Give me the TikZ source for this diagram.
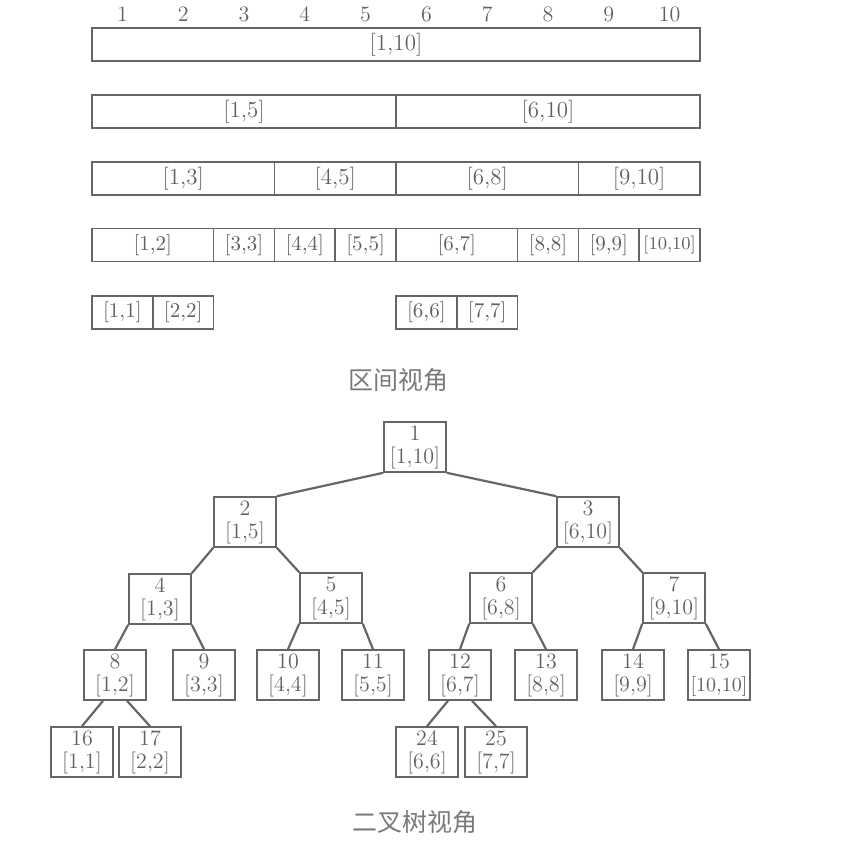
\documentclass[tikz,border=0pt]{standalone}
\usepackage{fontspec}
\newfontfamily\cjk{Noto Sans CJK SC}
\definecolor{textgray}{gray}{0.38}
\definecolor{linegray}{gray}{0.40}

\begin{document}
\begin{tikzpicture}[x=0.5pt, y=-0.5pt,
        seg/.style={draw=linegray, line width=0.8pt, minimum height=16.5pt, inner sep=0pt,
            text=textgray, font=\fontsize{11.5}{13}\selectfont},
        small seg/.style={seg, font=\fontsize{10.5}{12}\selectfont},
        tnode/.style={draw=linegray, line width=0.8pt, minimum width=31pt, minimum height=25pt,
            inner sep=0pt, align=center, text=textgray, font=\fontsize{11}{11.5}\selectfont},
        link/.style={draw=linegray, line width=1.1pt},
        caption/.style={text=textgray!85, font=\cjk\fontsize{12.5}{14}\selectfont}]
    \useasboundingbox (0,0) rectangle (856,845);

    % Interval view
    \begin{scope}
        \foreach \i in {1,...,10} {
            \node[text=textgray, font=\fontsize{11}{12}\selectfont] (col\i) at ({92+(\i-0.5)*60.8}, 14) {\i};
        }

        % Rows 1 to 3
        \foreach \a/\b/\y in {1/10/44.5, 1/5/111.5, 6/10/111.5, 1/3/178.5, 4/5/178.5, 6/8/178.5, 9/10/178.5} {
            \node[seg, minimum width={(\b-\a+1)*30.4pt}] (iv-\a-\b) at ({92+(\a-1+\b)*30.4}, \y) {[\a,\b]};
        }

        % Rows 4 and 5
        \foreach \a/\b/\y in {1/2/245, 3/3/245, 4/4/245, 5/5/245, 6/7/245, 8/8/245, 9/9/245,
                              1/1/312.5, 2/2/312.5, 6/6/312.5, 7/7/312.5} {
            \node[small seg, minimum width={(\b-\a+1)*30.4pt}] (iv-\a-\b) at ({92+(\a-1+\b)*30.4}, \y) {[\a,\b]};
        }
        \node[seg, minimum width=30.4pt, font=\fontsize{9}{10}\selectfont] (iv-10-10) at ({92+19*30.4}, 245) {[10,10]};

        \node[caption] (cap1) at (398, 380) {区间视角};
    \end{scope}

    % Binary tree view
    \begin{scope}
        \foreach \n/\lab/\x/\y in {1/{[1,10]}/415/447,
                2/{[1,5]}/245/522, 3/{[6,10]}/588/522,
                4/{[1,3]}/160/599, 5/{[4,5]}/331/598, 6/{[6,8]}/501/598, 7/{[9,10]}/674/598,
                8/{[1,2]}/115/675, 9/{[3,3]}/204/675, 10/{[4,4]}/288/675, 11/{[5,5]}/373/675,
                12/{[6,7]}/460/675, 13/{[8,8]}/546/675, 14/{[9,9]}/633/675,
                15/{{\fontsize{10}{10}\selectfont[10,10]}}/719/675,
                16/{[1,1]}/82/752, 17/{[2,2]}/150/752, 24/{[6,6]}/427/752, 25/{[7,7]}/496/752} {
            \node[tnode] (t\n) at (\x, \y) {\n\\\lab};
        }

        % Links
        \draw[link] (t1.south west) -- (t2.north east);
        \draw[link] (t1.south east) -- (t3.north west);
        \foreach \p/\l/\r in {2/4/5, 3/6/7} {
            \draw[link] (t\p.south west) -- (t\l.north east);
            \draw[link] (t\p.south east) -- (t\r.north west);
        }
        \foreach \p/\l/\r in {4/8/9, 5/10/11, 6/12/13, 7/14/15} {
            \draw[link] (t\p.south west) -- (t\l.north);
            \draw[link] (t\p.south east) -- (t\r.north);
        }
        \foreach \p/\l/\r in {8/16/17, 12/24/25} {
            \draw[link] ([xshift=-6pt]t\p.south) -- (t\l.north);
            \draw[link] ([xshift=6pt]t\p.south) -- (t\r.north);
        }

        \node[caption] (cap2) at (415, 822) {二叉树视角};
    \end{scope}
\end{tikzpicture}
\end{document}
